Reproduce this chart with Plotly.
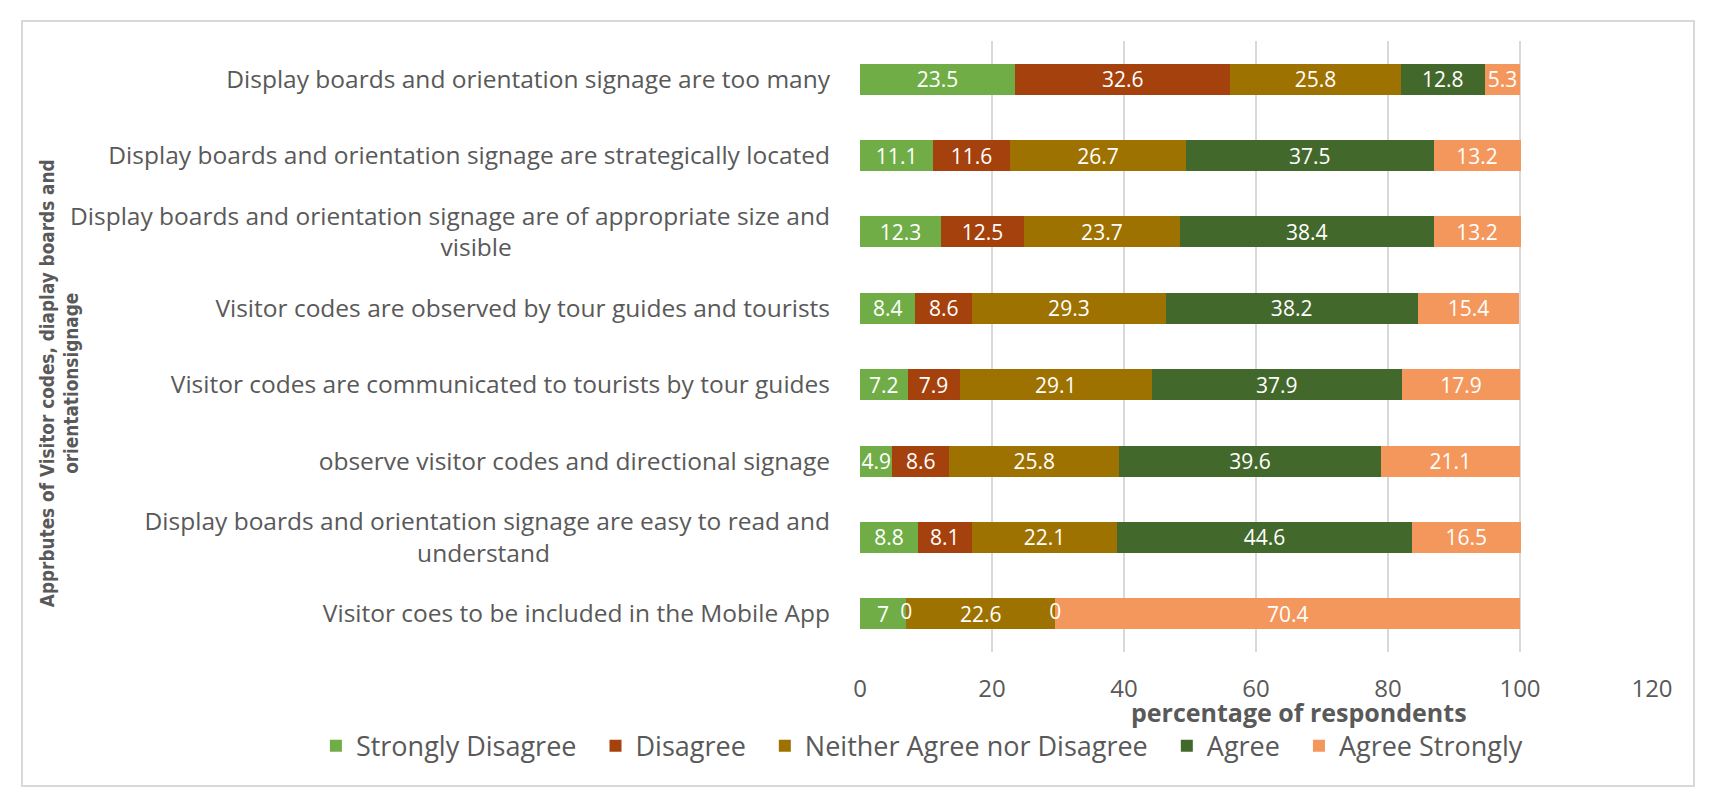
import plotly.graph_objects as go

NB = "\u00a0"

# statements, top to bottom as shown
statements = [
    "Display boards and orientation signage are too many",
    "Display boards and orientation signage are strategically located",
    "Display boards and orientation signage are of appropriate size and<br>visible" + NB * 50,
    "Visitor codes are observed by tour guides and tourists",
    "Visitor codes are communicated to tourists by tour guides",
    "observe visitor codes and directional signage",
    "Display boards and orientation signage are easy to read and<br>understand" + NB * 44,
    "Visitor coes to be included in the Mobile App",
]

strongly_disagree = [23.5, 11.1, 12.3, 8.4, 7.2, 4.9, 8.8, 7]
disagree = [32.6, 11.6, 12.5, 8.6, 7.9, 8.6, 8.1, 0]
neither = [25.8, 26.7, 23.7, 29.3, 29.1, 25.8, 22.1, 22.6]
agree = [12.8, 37.5, 38.4, 38.2, 37.9, 39.6, 44.6, 0]
agree_strongly = [5.3, 13.2, 13.2, 15.4, 17.9, 21.1, 16.5, 70.4]

series = [
    ("Strongly Disagree", strongly_disagree, "#70AD47"),
    ("Disagree", disagree, "#A5410C"),
    ("Neither Agree nor Disagree", neither, "#9E7200"),
    ("Agree", agree, "#43682B"),
    ("Agree Strongly", agree_strongly, "#F4975C"),
]

x_ticks = [0, 20, 40, 60, 80, 100, 120]

grey = "#595959"
fig = go.Figure()
for name, vals, col in series:
    fig.add_trace(go.Bar(
        y=statements, x=vals, name=name + NB * 2, orientation="h",
        marker=dict(color=col, line=dict(width=0)),
        text=[f"{v:g}" for v in vals], textposition="inside",
        insidetextanchor="middle", textangle=0, constraintext="none",
        textfont=dict(color="white", size=21, family="Open Sans"),
        width=0.405,
    ))

# zero-length segments still get their "0" label
zx, zy = [], []
start = [0] * len(statements)
for name, vals, col in series:
    for i, v in enumerate(vals):
        if v == 0:
            zx.append(start[i])
            zy.append(statements[i])
        start[i] += v
fig.add_trace(go.Scatter(x=zx, y=zy, mode="text", text=["0"] * len(zx),
                         textfont=dict(color="white", size=21, family="Open Sans"),
                         showlegend=False, hoverinfo="skip"))

# page body has an 8px margin, so the figure is drawn a little smaller
fig.update_layout(
    barmode="stack",
    width=1699, height=792,
    margin=dict(l=852, r=55, t=33, b=148),
    plot_bgcolor="white", paper_bgcolor="white",
    font=dict(family="Open Sans", color=grey),
    legend=dict(orientation="h", xref="paper", yref="paper",
                x=-0.687, xanchor="left", y=-0.154, yanchor="middle",
                font=dict(size=27, color=grey), itemwidth=30,
                traceorder="normal"),
)
fig.update_xaxes(range=[0, 120], tickvals=x_ticks, showgrid=True,
                 gridcolor="#D9D9D9", gridwidth=1.5, zeroline=False,
                 showline=False, tickfont=dict(size=24, color=grey),
                 ticks="", ticklabelstandoff=20)
fig.update_yaxes(autorange="reversed", showgrid=False, showline=False,
                 ticks="", tickfont=dict(size=24.5, color=grey),
                 ticklabelstandoff=29)

fig.add_annotation(text="<b>percentage of respondents</b>", xref="x", yref="paper",
                   x=66.5, y=0, yshift=-60, showarrow=False,
                   xanchor="center", yanchor="middle",
                   font=dict(size=25, color=grey, family="Open Sans"))
fig.add_annotation(text="<b>Apprbutes of Visitor codes, diaplay boards and<br>orientationsignage</b>",
                   xref="paper", yref="paper", x=0, y=0.44, xshift=-801,
                   xanchor="center", yanchor="middle",
                   textangle=-90, showarrow=False,
                   font=dict(size=18.8, color=grey,
                             family="Liberation Sans Narrow, DejaVu Sans Condensed, Open Sans"))

# outer frame
fig.add_shape(type="rect", xref="paper", yref="paper",
              x0=-1.0581, x1=1.0530, y0=-0.2193, y1=1.0327,
              line=dict(color="#D9D9D9", width=2))

fig.write_html("out.html")
